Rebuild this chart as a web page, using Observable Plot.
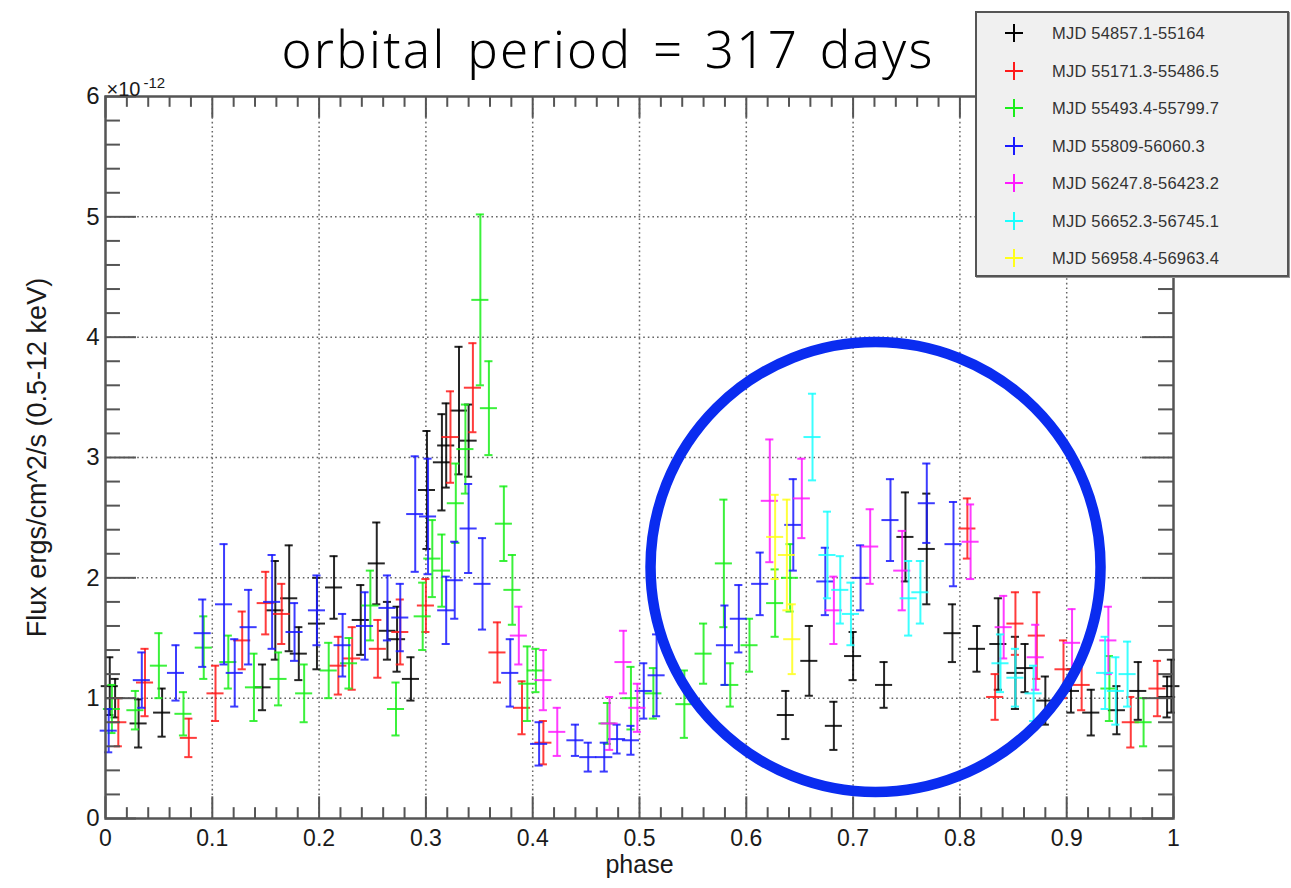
<!DOCTYPE html>
<html>
<head>
<meta charset="utf-8">
<script src="https://cdn.jsdelivr.net/npm/d3@7"></script>
<script src="https://cdn.jsdelivr.net/npm/@observablehq/plot@0.6"></script>
<style>
  html, body { margin: 0; padding: 0; background: #fff; }
  body { width: 1291px; height: 888px; overflow: hidden; position: relative; font-family: "Liberation Sans", Arial, sans-serif; }
  #chart { position: absolute; left: 0; top: 0; }
  #title { position: absolute; left: 0; width: 1216px; top: 22px; text-align: center;
           font-family: "Noto Sans", sans-serif; font-weight: 300; font-size: 51px; line-height: 52px; color: #000;
           letter-spacing: 2.3px; word-spacing: 5px; white-space: nowrap; }
  #legend { position: absolute; left: 975px; top: 11px; width: 314px; height: 266px; box-sizing: border-box;
            background: #f0f0f0; border: 2px solid #555; box-shadow: 1px 1px 0 #999; }
  .row { position: absolute; left: 0; height: 20px; width: 100%; }
  .row svg { position: absolute; left: 27px; top: 0; }
  .row span { position: absolute; left: 75px; top: 0; font-size: 16.5px; line-height: 20px; color: #333; letter-spacing: 0.2px; }
</style>
</head>
<body>
<div id="chart"></div>
<div id="title"></div>
<div id="legend"></div>
<script>
// ---------- data (flux in units of 1e-12 erg/cm^2/s) : [phase, flux, error] ----------
const seriesNames = [
  "MJD 54857.1-55164",
  "MJD 55171.3-55486.5",
  "MJD 55493.4-55799.7",
  "MJD 55809-56060.3",
  "MJD 56247.8-56423.2",
  "MJD 56652.3-56745.1",
  "MJD 56958.4-56963.4"
];
const seriesColors = ["#000000", "#ff1a1a", "#1aee1a", "#1a1aff", "#ff1aff", "#1affff", "#ffff1a"];

const blackPts = [
  [0.004, 1.10, 0.24], [0.009, 1.00, 0.16], [0.031, 0.79, 0.20], [0.053, 0.88, 0.20],
  [0.147, 1.09, 0.19], [0.159, 1.73, 0.41], [0.172, 1.83, 0.44], [0.181, 1.37, 0.22],
  [0.198, 1.62, 0.38], [0.214, 1.92, 0.26], [0.239, 1.65, 0.29], [0.254, 2.12, 0.34],
  [0.264, 1.56, 0.24], [0.273, 1.49, 0.27], [0.286, 1.16, 0.18], [0.301, 2.73, 0.49],
  [0.315, 2.96, 0.40], [0.319, 3.10, 0.35], [0.331, 3.39, 0.53], [0.340, 3.14, 0.30],
  [0.637, 0.86, 0.20], [0.659, 1.31, 0.29], [0.682, 0.77, 0.20], [0.700, 1.35, 0.20],
  [0.729, 1.11, 0.19], [0.749, 2.34, 0.37], [0.769, 2.24, 0.46], [0.793, 1.54, 0.24],
  [0.816, 1.41, 0.19], [0.836, 1.45, 0.38], [0.852, 1.21, 0.30], [0.861, 1.25, 0.20],
  [0.880, 0.98, 0.20], [0.904, 1.06, 0.18], [0.923, 0.88, 0.19], [0.947, 0.90, 0.20],
  [0.967, 1.06, 0.24], [0.994, 1.01, 0.17], [0.998, 1.10, 0.22]
];
const redPts = [
  [0.012, 0.80, 0.20], [0.037, 1.13, 0.28], [0.078, 0.67, 0.16], [0.103, 1.04, 0.23],
  [0.128, 1.48, 0.24], [0.150, 1.79, 0.26], [0.165, 1.70, 0.25], [0.218, 1.27, 0.24],
  [0.231, 1.33, 0.26], [0.255, 1.41, 0.24], [0.276, 1.55, 0.27], [0.300, 1.77, 0.22],
  [0.323, 3.17, 0.38], [0.344, 3.58, 0.37], [0.367, 1.38, 0.25], [0.390, 0.92, 0.22],
  [0.410, 0.63, 0.18], [0.807, 2.41, 0.25], [0.833, 1.01, 0.19], [0.852, 1.62, 0.26],
  [0.872, 1.52, 0.36], [0.897, 1.24, 0.24], [0.914, 1.11, 0.21], [0.960, 0.80, 0.21],
  [0.985, 1.08, 0.23]
];
const greenPts = [
  [0.006, 0.91, 0.20], [0.028, 0.90, 0.16], [0.050, 1.27, 0.27], [0.073, 0.87, 0.18],
  [0.092, 1.42, 0.26], [0.115, 1.30, 0.22], [0.139, 1.09, 0.28], [0.162, 1.16, 0.22],
  [0.186, 1.04, 0.24], [0.209, 1.23, 0.23], [0.228, 1.29, 0.21], [0.248, 1.77, 0.29],
  [0.272, 0.91, 0.22], [0.297, 1.68, 0.28], [0.306, 2.16, 0.32], [0.315, 2.06, 0.30],
  [0.328, 2.62, 0.33], [0.337, 3.07, 0.37], [0.351, 4.31, 0.71], [0.359, 3.41, 0.39],
  [0.373, 2.45, 0.31], [0.381, 1.90, 0.29], [0.395, 1.12, 0.31], [0.403, 1.23, 0.18],
  [0.470, 0.79, 0.17], [0.492, 1.00, 0.26], [0.513, 1.04, 0.21], [0.542, 0.95, 0.28],
  [0.560, 1.37, 0.25], [0.579, 2.12, 0.53], [0.585, 1.11, 0.18], [0.603, 1.44, 0.22],
  [0.627, 1.79, 0.28], [0.641, 2.00, 0.28], [0.940, 1.08, 0.27], [0.972, 0.80, 0.20]
];
const bluePts = [
  [0.003, 0.73, 0.18], [0.034, 1.15, 0.23], [0.066, 1.21, 0.23], [0.091, 1.54, 0.28],
  [0.111, 1.78, 0.50], [0.121, 1.21, 0.28], [0.134, 1.59, 0.31], [0.156, 1.80, 0.39],
  [0.177, 1.55, 0.24], [0.198, 1.73, 0.29], [0.222, 1.44, 0.26], [0.243, 1.60, 0.28],
  [0.264, 1.75, 0.27], [0.276, 1.67, 0.28], [0.290, 2.53, 0.48], [0.302, 2.51, 0.48],
  [0.319, 1.73, 0.28], [0.327, 1.98, 0.32], [0.340, 2.41, 0.37], [0.353, 1.95, 0.38],
  [0.379, 1.21, 0.28], [0.406, 0.62, 0.18], [0.440, 0.65, 0.13], [0.452, 0.51, 0.12],
  [0.467, 0.51, 0.12], [0.479, 0.66, 0.12], [0.492, 0.65, 0.12], [0.504, 1.06, 0.23],
  [0.516, 1.19, 0.34], [0.580, 1.44, 0.33], [0.593, 1.66, 0.28], [0.613, 1.95, 0.26],
  [0.644, 2.44, 0.38], [0.674, 1.97, 0.28], [0.707, 2.00, 0.27], [0.735, 2.48, 0.34],
  [0.769, 2.62, 0.33], [0.794, 2.28, 0.35]
];
const magentaPts = [
  [0.387, 1.52, 0.24], [0.410, 1.15, 0.25], [0.423, 0.72, 0.20], [0.472, 0.79, 0.22],
  [0.485, 1.30, 0.26], [0.498, 0.92, 0.20], [0.622, 2.64, 0.51], [0.652, 2.66, 0.33],
  [0.682, 1.73, 0.28], [0.716, 2.26, 0.31], [0.746, 2.06, 0.33], [0.810, 2.30, 0.31],
  [0.841, 1.59, 0.26], [0.871, 1.34, 0.27], [0.905, 1.46, 0.28], [0.939, 1.48, 0.28]
];
const cyanPts = [
  [0.662, 3.17, 0.36], [0.676, 2.19, 0.36], [0.688, 1.90, 0.28], [0.698, 1.70, 0.26],
  [0.752, 1.83, 0.31], [0.763, 1.88, 0.26], [0.838, 1.29, 0.24], [0.852, 1.17, 0.24],
  [0.869, 1.04, 0.23], [0.936, 1.21, 0.30], [0.946, 1.06, 0.28], [0.957, 1.20, 0.27]
];
const yellowPts = [
  [0.627, 2.34, 0.35], [0.638, 2.19, 0.46], [0.643, 1.49, 0.29]
];

const xTickValues = [0, 0.1, 0.2, 0.3, 0.4, 0.5, 0.6, 0.7, 0.8, 0.9, 1];
const xTickLabels = ["0", "0.1", "0.2", "0.3", "0.4", "0.5", "0.6", "0.7", "0.8", "0.9", "1"];
const yTickValues = [0, 1, 2, 3, 4, 5, 6];
const yTickLabels = ["0", "1", "2", "3", "4", "5", "6"];
const highlight = [{phase: 0.721, flux: 2.09}];
const titleText = "orbital period = 317 days";
const xLabel = "phase";
const yLabel = "Flux ergs/cm^2/s (0.5-12 keV)";

// ---------- build ----------
const allSeries = [blackPts, redPts, greenPts, bluePts, magentaPts, cyanPts, yellowPts];
const XHALF = 0.008, CAP = 0.0038;

const xMinor = d3.range(0, 51).map(i => i / 50);
const yMinor = d3.range(0, 31).map(i => i / 5);
const isMajorX = v => Math.abs(v * 10 - Math.round(v * 10)) < 1e-6;
const isMajorY = v => Math.abs(v - Math.round(v)) < 1e-6;

const axisCol = "#555";
const labelCol = "#1a1a1a";
const marks = [
  // grid
  Plot.ruleX(xTickValues.slice(1, -1), {y1: 0, y2: 6, stroke: "#666", strokeWidth: 1.5, strokeDasharray: "1.6,3"}),
  Plot.ruleY(yTickValues.slice(1, -1), {x1: 0, x2: 1, stroke: "#666", strokeWidth: 1.5, strokeDasharray: "1.6,3"}),
];
allSeries.forEach((pts, i) => {
  const rows = pts.map(([phase, flux, err]) => ({phase, flux, err}));
  const c = seriesColors[i];
  const o = {stroke: c, strokeWidth: 2, strokeOpacity: 0.85};
  marks.push(
    Plot.ruleX(rows, {x: "phase", y1: d => d.flux - d.err, y2: d => d.flux + d.err, ...o}),
    Plot.ruleY(rows, {y: "flux", x1: d => d.phase - XHALF, x2: d => d.phase + XHALF, ...o}),
    Plot.ruleY(rows, {y: d => d.flux - d.err, x1: d => d.phase - CAP, x2: d => d.phase + CAP, ...o}),
    Plot.ruleY(rows, {y: d => d.flux + d.err, x1: d => d.phase - CAP, x2: d => d.phase + CAP, ...o})
  );
});
marks.push(
  // ticks (inward, all four sides)
  Plot.ruleY(yMinor, {x1: 0, x2: d => isMajorY(d) ? 0.029 : 0.014, stroke: axisCol, strokeWidth: 2}),
  Plot.ruleY(yMinor, {x1: d => isMajorY(d) ? 1 - 0.029 : 1 - 0.014, x2: 1, stroke: axisCol, strokeWidth: 2}),
  Plot.ruleX(xMinor, {y1: 0, y2: d => isMajorX(d) ? 0.18 : 0.09, stroke: axisCol, strokeWidth: 2}),
  Plot.ruleX(xMinor, {y1: d => isMajorX(d) ? 6 - 0.18 : 6 - 0.09, y2: 6, stroke: axisCol, strokeWidth: 2}),
  Plot.frame({stroke: axisCol, strokeWidth: 2.5}),
  // tick labels
  Plot.text(xTickValues, {x: d => d, y: () => 0, text: (d, i) => xTickLabels[i], dy: 20, fontSize: 23, fill: labelCol}),
  Plot.text(yTickValues, {x: () => 0, y: d => d, text: (d, i) => yTickLabels[i], dx: -6, textAnchor: "end", fontSize: 24, fill: labelCol}),
  Plot.text(["×10"], {frameAnchor: "top-left", dx: 1, dy: -15, textAnchor: "start", fontSize: 20, fill: labelCol}),
  Plot.text(["-12"], {frameAnchor: "top-left", dx: 38, dy: -19, textAnchor: "start", fontSize: 15, fill: labelCol}),
  // axis titles
  Plot.text([xLabel], {frameAnchor: "bottom", dy: 54, fontSize: 25, fill: labelCol}),
  Plot.text([yLabel], {frameAnchor: "left", dx: -68, rotate: -90, textAnchor: "middle", fontSize: 27, fill: labelCol}),
  // highlight circle
  Plot.dot(highlight, {x: "phase", y: "flux", r: 225, stroke: "#0a2cf0", strokeWidth: 10.5, fill: "none"})
);

const chart = Plot.plot({
  width: 1291,
  height: 888,
  marginLeft: 105,
  marginRight: 118,
  marginTop: 96,
  marginBottom: 70,
  x: {domain: [0, 1], axis: null},
  y: {domain: [0, 6], axis: null},
  style: {fontFamily: "'Liberation Sans', Arial, sans-serif", background: "transparent"},
  marks
});
document.getElementById("chart").appendChild(chart);
document.getElementById("title").textContent = titleText;

// legend
const legend = document.getElementById("legend");
const rowTops = [10, 48, 85, 123, 160, 198, 235];
seriesNames.forEach((name, i) => {
  const row = document.createElement("div");
  row.className = "row";
  row.style.top = rowTops[i] + "px";
  const c = seriesColors[i];
  row.innerHTML = `<svg width="20" height="20"><line x1="1" y1="10" x2="19" y2="10" stroke="${c}" stroke-width="2"/><line x1="10" y1="1" x2="10" y2="19" stroke="${c}" stroke-width="2"/></svg><span></span>`;
  row.querySelector("span").textContent = name;
  legend.appendChild(row);
});
</script>
</body>
</html>
